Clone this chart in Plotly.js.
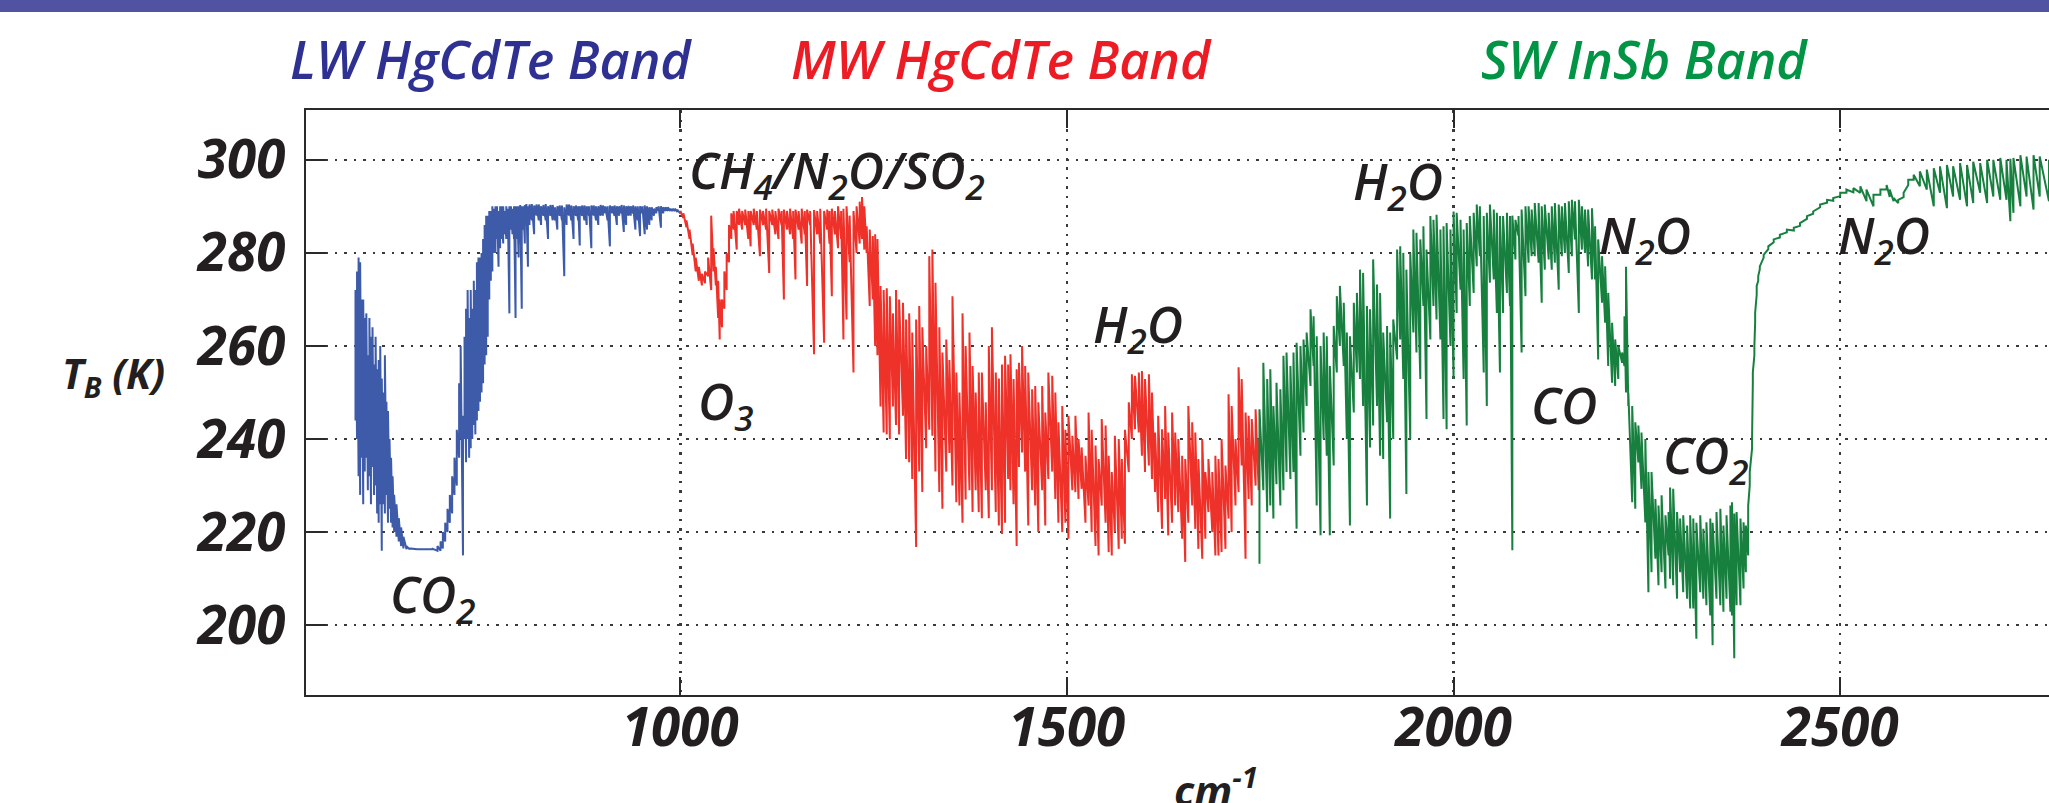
<!DOCTYPE html>
<html>
<head>
<meta charset="utf-8">
<script src="https://cdn.plot.ly/plotly-3.0.1.min.js"></script>
<style>
html,body{margin:0;padding:0;background:#fff;overflow:hidden;}
#chart{width:2049px;height:803px;}
</style>
</head>
<body>
<div id="chart"></div>
<script>
// ---------- DATA (brightness temperature spectrum) ----------
// Each band: wavenumber (cm-1), upper and lower envelope of the dense spectral lines (K)
const lwWavenumber = [580,582,584,586,588,590,592,594,596,598,600,602,604,606,608,610,612,614,616,618,620,622,624,626,628,630,633,636,639,642,646,650,660,670,680,686,690,693,696,699,702,705,708,711,714,716,719,721,723,725,727,729,731,733,735,737,739,741,743,745,747,749,751,753,755,757,759,761,763,765,767,769,771,773,775,777,779,781,783,785,787,789,791,793,795,797,799,801,803,805,808,811,814,817,820,823,826,829,832,835,838,841,844,847,850,853,856,859,862,865,868,870,873,876,879,882,885,888,891,894,897,900,903,906,909,912,915,918,921,924,927,930,933,936,939,942,945,948,951,954,957,960,963,966,969,972,975,978,981,984,987,990,993,996,1000];
const lwUpper = [272,276,279,278,270,270,266,267,258,266,262,264,256,262,255,257,260,253,250,258,248,246,240,236,232,228,226,223,221,219,217,216.5,216.3,216.3,216.4,217,218,220,222,225,228,232,236,242,252,260,245,262,268,272,266,272,268,274,272,278,279,279,280,283,286,288,288,289,289,290,289.5,290,290,289,290,290,290,289,290,289.5,290,290,289.5,290,290,290,290,290.3,290,290,290.3,290.5,290,290.4,290.5,290.2,290.4,290.4,290,290.3,290.5,290,290.3,290.3,289.8,290,290.2,290.2,289.8,290.4,290.4,290.2,290,290.2,290,290,290.2,290.2,290,290,290.2,290.2,290,290,290.3,290.2,290,290,290.2,290,290.2,290,290,290.3,290.2,290,290.1,290,290.2,290,290,290,290,290.2,290,289.8,289.8,289.5,289.8,290,290,289.8,289.8,289.8,289.5,289.5,289.5,289.3,289];
const lwLower = [244,240,232,228,236,226,233,236,229,232,226,234,228,230,224,222,226,216,226,224,228,222,225,222,221,220,219,218,217,216.5,216.3,216.3,216.3,216.3,216.3,216,216,216.5,218,220,222,224,228,230,236,240,215,240,235,240,236,238,240,243,241,244,246,248,250,252,256,258,262,270,274,276,280,280,283,277,281,283,282,284,283,284,267,285,284,283,266,283,279,282,268,285,282,286,277,286,287,284,288,287,286,288,287,283,288,287,287,285,288,287,275,286,288,287,283,288,287,281.6,288,287,286,288,281,288,287,286,288,288,288.5,287,281.4,288.5,288,286,288,288.5,284.5,286,288,288,288.5,285,287,283.6,288.5,284,285,286,287,288,288.5,289,285.4,288.5,289,289,289,289,289,288.8,288.5];

const mwWavenumber = [1000,1004,1008,1012,1016,1020,1024,1028,1032,1036,1040,1043,1046,1049,1051,1054,1057,1060,1063,1066,1069,1073,1076,1080,1084,1088,1091,1095,1099,1103,1107,1111,1115,1119,1123,1127,1131,1134,1138,1142,1146,1149,1153,1157,1161,1164,1168,1173,1177,1181,1186,1190,1193,1196,1200,1204,1208,1211,1215,1219,1224,1228,1232,1235,1238,1241,1245,1249,1252,1255,1259,1263,1267,1271,1275,1279,1283,1288,1292,1296,1300,1305,1309,1313,1318,1322,1326,1330,1335,1339,1344,1348,1352,1357,1361,1365,1369,1374,1378,1382,1386,1390,1395,1399,1403,1408,1412,1416,1420,1424,1427,1431,1435,1438,1442,1446,1450,1455,1459,1463,1468,1472,1476,1481,1485,1489,1494,1498,1502,1507,1511,1515,1519,1524,1528,1532,1537,1541,1545,1550,1554,1558,1562,1567,1571,1575,1580,1584,1588,1593,1597,1601,1606,1610,1614,1618,1623,1627,1631,1636,1640,1644,1649,1653,1657,1662,1666,1670,1675,1679,1683,1688,1692,1696,1700,1705,1709,1713,1718,1722,1726,1731,1735,1739,1744,1748];
const mwUpper = [289,288.5,287,285,282,279,277,275.5,276,279,288,281,277,274,270,270,276,280,286,288.5,289,289,289.5,289,289.3,289,289,289.5,289,289.3,289,289.5,289,289.3,289,289.5,289,289.3,289,289.5,289,289.3,289,289.5,289,289.3,289,289.2,289,289.5,289,289.3,289,289.5,289,290,289,289.5,290,288,289,290,291,292,290,285.7,285,283.6,284,283,272.9,272,272.4,270.7,267,272,270,269.3,265.7,267,262.9,265.7,268.6,264,260,279.3,280.7,273.6,264,258.6,261.4,257,270.7,254.3,250,267,260,262.9,255.7,250,254.3,254.3,247.9,260,264,254.3,253,256,257.9,256,258.2,252.9,255,256.4,260,255.7,254.3,250.7,251.4,247.9,251.4,245.7,254.3,253.6,250,243.6,247.1,242,245,240.7,245,240,238.2,236.4,245.7,242,238.6,235.7,244.3,242.9,236.4,232.9,240.7,240,235.7,242,247.9,253.9,253.6,254.3,254.6,252.9,253.9,250,241.4,245,242.1,247.1,241.4,245.7,241.4,240,236.4,235.7,247.1,243.6,241.4,235.7,240,232.9,235.7,232.9,236.4,235.7,240,234.3,249.6,247.1,240,255.4,252.9,245.7,245,244.3,246.4,240];
const mwLower = [288.5,287.5,285.5,283,279.5,276,274,273,273.5,275,272,276,273,266,261.4,264,268,272,278,283,285,280.7,286,285,286,283,281.4,286,285,279.3,286,285,275.7,286,284,283,286,270,285,284,283,274.3,285,282,284,272.9,286,258.2,284,282,260.7,285,282,270.7,284,281,283,261.4,265.7,278,254.3,280,282,283,280.7,280,268.6,270,260,258,247,241.4,241,240,247,243,241,245,235.7,235,231.4,216.8,233,228.6,238,242,240.7,233,228.6,225,233,237,230,226.4,225.7,222,227,229,224.3,229,224.3,223,229,223,229,224.3,221.4,219.6,222,231.4,229,226,217,234,237.1,233,221.4,229,225.7,220,229,221.4,231.4,233,227.1,222,220,222,218.6,229,228.6,227.1,229.3,222,225.7,220,217,215,225.7,222,215.7,215,220,216.4,218.6,217.5,232.9,240,242.1,241.4,236.4,232.9,234.3,231.4,228.6,224.3,220.7,227.1,219.3,222,225.7,224.3,218.6,213.6,222,225.7,220.7,216.4,214.3,218.6,224.3,220,215,215,215.7,216.4,222.9,220,225.7,228.6,234.3,214.3,227.1,225.7,230,229];

const swWavenumber = [1749,1754,1759,1763,1767,1771,1776,1780,1784,1789,1793,1797,1802,1806,1810,1815,1819,1823,1828,1832,1836,1840,1845,1849,1853,1858,1862,1866,1871,1875,1879,1883,1888,1892,1896,1901,1905,1909,1914,1918,1922,1927,1931,1935,1939,1944,1948,1952,1957,1961,1965,1970,1974,1978,1983,1987,1991,1996,2000,2004,2009,2013,2017,2021,2026,2030,2034,2039,2043,2047,2052,2056,2060,2064,2069,2073,2076,2080,2084,2088,2093,2097,2101,2105,2110,2114,2118,2123,2127,2131,2136,2140,2144,2149,2153,2157,2162,2166,2170,2174,2179,2183,2187,2192,2196,2200,2205,2209,2213,2218,2221,2223,2226,2231,2235,2239,2243,2248,2252,2256,2261,2265,2269,2274,2278,2280,2284,2289,2293,2297,2302,2306,2310,2314,2319,2323,2327,2332,2335,2340,2345,2349,2353,2358,2360,2363,2366,2371,2375,2378,2381,2383,2386,2387,2389,2390,2392,2394,2396,2401,2407,2414,2422,2431,2440,2448,2457,2465,2474,2483,2491,2500,2508,2517,2526,2534,2543,2552,2560,2564,2569,2575,2582,2588,2595,2603,2612,2621,2629,2638,2646,2655,2664,2672,2681,2690,2698,2707,2715,2720,2724,2733,2741,2750,2758,2770];
const swUpper = [246.4,256.4,252.9,255,247.1,252.1,250.7,257.9,258.6,255.7,258.6,260.7,260,261.4,262.9,267.9,266.4,262.1,260,262.9,262.1,255.7,264.3,270.7,272.9,269.3,262.9,262.1,269.3,271.4,276.4,275.7,268.6,267.9,278.6,273.2,271.4,262.9,264.3,262.9,265.7,280.7,281.4,280,276.4,280,285,284.3,282.9,285.7,280.7,287.9,287.1,288.2,285,285.7,286.4,285,288.9,288.6,287.1,285,286.4,287.9,288.6,290.4,290,287.9,288.6,290.4,289.3,288.6,287.9,287.9,288.6,287.9,288,287.1,287.9,289.3,290,290,289.3,290.7,290.7,290,290.4,288.6,290,290.7,290.4,290,290.7,291.1,291.4,291.1,291.4,290,289.3,289.3,289.6,285.7,282.9,279.3,277.1,271.4,265,261.4,260,258.6,266.4,277,250,247.1,243.6,242.9,241.4,240,232.9,232.9,227.1,225.7,227.9,223.6,224.3,229.6,229.3,224.3,222.9,223.6,221.4,223.6,222.9,222,223.6,220.7,222.1,222.9,222,224.3,225,221.4,223.6,225.7,226.4,224,224.3,222.9,222.1,221.4,225.7,232.9,240,254.3,260,267.1,272.9,275,277.1,279.6,281.4,282.9,283.9,285,285.4,286.4,287.9,288.9,290.4,291.4,291.8,292.9,293.6,293.9,294.3,293.6,292.5,293.6,294.6,293.6,291.8,291.4,292.9,295.7,296.8,297.5,297.9,298.2,298.6,298.9,298.6,299.3,298.9,299.6,299.3,300,300,300.4,300,300.2,300.4,301,300.7,301,300.7,300];
const swLower = [213.2,229,224.3,225.7,222.9,230.3,225.7,229,232.9,231.4,232.9,220.7,236.4,241.4,247.1,251.4,255.7,225.7,219.3,240,236.4,219.3,234.3,254.3,260,255.7,240,221.4,245.7,254.3,252.9,247.1,225.7,238.2,242.9,247.1,236.4,235.7,243.6,222.9,240,257.1,261.4,252.9,228.2,240,262.9,258.6,252.9,268.6,244.3,261.4,268.6,265.7,261.4,244.3,242.1,260,252.9,267.1,272.1,252.9,242.9,268.6,271.4,277.1,279.3,254.3,247.1,273.6,274.3,267.1,254.3,267.1,271.4,268.6,216.1,278.6,283.6,258.6,270.7,277.9,279.3,279.3,277.9,269.3,276.4,278.6,276.4,277.9,272.1,279.3,280,275.7,279.3,282.9,267.1,280.7,280,277.1,274.3,274.3,257.1,269.3,265,255.7,252.1,251.4,252.9,256.4,255.7,250,247.1,226.4,225,235,229.3,222.1,207.1,211.4,214.3,208.6,211.4,207.9,215,210,208.6,205.7,211.4,207.1,205.7,203.6,203.6,197.1,207.1,205.7,204.3,202.1,195.7,205.7,204.3,202.9,205.7,202.9,202.1,192.9,204.3,204.3,207.9,211.4,215,230,238,252,258,265,271,274,276.5,279,280.8,282.3,283.3,284.4,284.8,285.8,287.3,288.4,289.8,290.8,291.2,292.2,292.9,293,292.9,291.1,290,292.5,293.6,292,291.1,290.7,292,294.6,295.7,294.3,293.6,290,292.9,289.6,292.1,291.4,290,290.7,292.9,290.7,292.1,291.4,291.4,286.8,288.6,290,292.1,289.3,292.1,291.1];

const xTickValues = [1000, 1500, 2000, 2500];
const xTickLabels = ['1000', '1500', '2000', '2500'];
const yTickValues = [200, 220, 240, 260, 280, 300];
const yTickLabels = ['200', '220', '240', '260', '280', '300'];

const bandNames = ['LW HgCdTe Band', 'MW HgCdTe Band', 'SW InSb Band'];
const gasLabels = ['CO<sub>2</sub>', 'CH<sub>4</sub>/N<sub>2</sub>O/SO<sub>2</sub>', 'O<sub>3</sub>', 'H<sub>2</sub>O', 'H<sub>2</sub>O', 'N<sub>2</sub>O', 'CO', 'CO<sub>2</sub>', 'N<sub>2</sub>O'];
const gasLabelWavenumber = [622, 1009, 1020, 1531, 1867, 2186, 2098, 2268, 2494];
const gasLabelTemperature = [206.0, 297.2, 247.6, 264.0, 294.9, 283.2, 247.4, 235.9, 283.2];

// ---------- build envelope traces (vertical line per wavenumber, lower -> upper) ----------
function envelope(w, up, lo) {
  const xs = [], ys = [];
  for (let i = 0; i < w.length; i++) {
    xs.push(w[i], w[i]);
    ys.push(lo[i], up[i]);
  }
  return {xs, ys};
}
const lw = envelope(lwWavenumber, lwUpper, lwLower);
const mw = envelope(mwWavenumber, mwUpper, mwLower);
const sw = envelope(swWavenumber, swUpper, swLower);

const colors = {lwLine: '#3d5ba9', mwLine: '#ee3129', swLine: '#17803f',
                lwText: '#2e3192', mwText: '#ed1c24', swText: '#009444', ink: '#231f20'};

const traces = [
  {x: lw.xs, y: lw.ys, type: 'scatter', mode: 'lines', line: {color: colors.lwLine, width: 2}},
  {x: mw.xs, y: mw.ys, type: 'scatter', mode: 'lines', line: {color: colors.mwLine, width: 2}},
  {x: sw.xs, y: sw.ys, type: 'scatter', mode: 'lines', line: {color: colors.swLine, width: 2}}
];

const FONT = '"Open Sans", "DejaVu Sans", sans-serif';
const annFont = {family: FONT, size: 50, color: colors.ink, weight: 600, style: 'italic'};

const annotations = [];
gasLabels.forEach((t, i) => {
  annotations.push({x: gasLabelWavenumber[i], y: gasLabelTemperature[i], xref: 'x', yref: 'y',
    text: t, showarrow: false, xanchor: 'left', yanchor: 'middle', font: annFont});
});
const bandColors = [colors.lwText, colors.mwText, colors.swText];
const bandX = [0.1064, 0.3993, 0.7682];
bandNames.forEach((t, i) => {
  annotations.push({x: bandX[i], y: 1.0876, xref: 'paper', yref: 'paper', text: t, showarrow: false,
    xanchor: 'center', yanchor: 'middle',
    font: {family: FONT, size: 52, color: bandColors[i], weight: 600, style: 'italic'}});
});
// axis titles
annotations.push({x: -0.1411, y: 0.547, xref: 'paper', yref: 'paper', text: 'T<sub>B</sub> (K)',
  showarrow: false, xanchor: 'left', yanchor: 'middle',
  font: {family: FONT, size: 41, color: colors.ink, weight: 700, style: 'italic'}});
annotations.push({x: 0.522, y: -0.158, xref: 'paper', yref: 'paper', text: 'cm<sup>-1</sup>',
  showarrow: false, xanchor: 'center', yanchor: 'middle',
  font: {family: FONT, size: 42, color: colors.ink, weight: 700, style: 'italic'}});

const tickFont = {family: FONT, size: 53, color: colors.ink, weight: 700, style: 'italic'};
const layout = {
  width: 2049, height: 803,
  margin: {l: 306, r: 0, t: 110, b: 108, pad: 0},
  paper_bgcolor: '#ffffff', plot_bgcolor: '#ffffff',
  showlegend: false, hovermode: false,
  xaxis: {range: [516, 2770], tickvals: xTickValues, ticktext: xTickLabels,
    showgrid: true, gridcolor: '#3a3a3a', gridwidth: 2.5, griddash: '2.5px,7px',
    zeroline: false, showline: true, linecolor: '#2a2a2a', linewidth: 2, mirror: 'ticks',
    ticks: 'inside', ticklen: 18, tickwidth: 2, tickcolor: '#2a2a2a', tickfont: tickFont,
    ticklabelstandoff: -15},
  yaxis: {range: [185, 310.7], tickvals: yTickValues, ticktext: yTickLabels,
    showgrid: true, gridcolor: '#3a3a3a', gridwidth: 2.5, griddash: '2.5px,7px',
    zeroline: false, showline: true, linecolor: '#2a2a2a', linewidth: 2, mirror: false,
    ticks: 'inside', ticklen: 20, tickwidth: 2, tickcolor: '#2a2a2a', tickfont: tickFont,
    ticklabelstandoff: 8},
  shapes: [{type: 'rect', xref: 'paper', yref: 'paper', x0: -0.2, x1: 1.01, y0: 1.1675, y1: 1.19,
    fillcolor: '#5152a2', line: {width: 0}, layer: 'above'}],
  annotations: annotations
};

Plotly.newPlot('chart', traces, layout, {staticPlot: true, displayModeBar: false});
</script>
</body>
</html>
